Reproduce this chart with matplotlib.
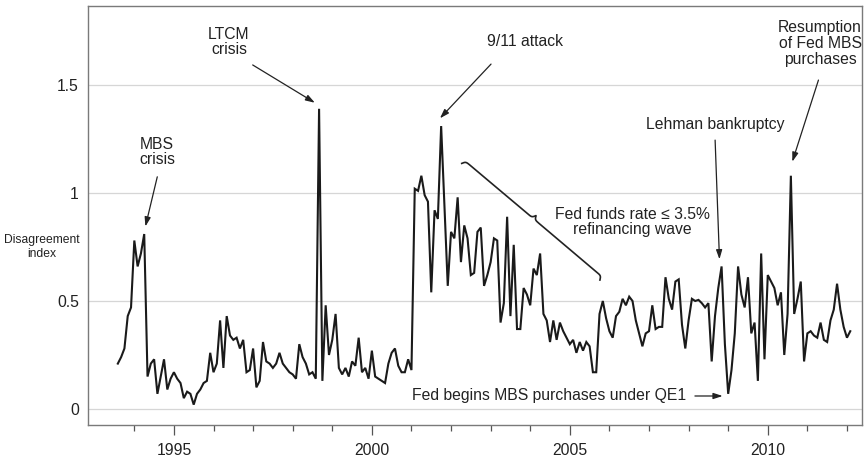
import numpy as np
import matplotlib
matplotlib.use("Agg")
import matplotlib.pyplot as plt

plt.rcParams['font.family'] = ['Liberation Sans', 'DejaVu Sans']

# monthly disagreement index, Aug 1993 - Feb 2012
start_year = 1993 + 7 / 12
disagreement = [
    0.21, 0.24, 0.28, 0.43, 0.47, 0.78, 0.66, 0.72, 0.81, 0.15,
    0.21, 0.23, 0.07, 0.15, 0.23, 0.09, 0.14, 0.17, 0.14, 0.12,
    0.05, 0.08, 0.07, 0.02, 0.07, 0.09, 0.12, 0.13, 0.26, 0.17,
    0.21, 0.41, 0.19, 0.43, 0.34, 0.32, 0.33, 0.28, 0.32, 0.17,
    0.18, 0.28, 0.10, 0.13, 0.31, 0.22, 0.21, 0.19, 0.21, 0.26,
    0.21, 0.19, 0.17, 0.16, 0.14, 0.30, 0.24, 0.21, 0.16, 0.17,
    0.14, 1.39, 0.13, 0.48, 0.25, 0.32, 0.44, 0.19, 0.16, 0.19,
    0.15, 0.22, 0.20, 0.33, 0.17, 0.19, 0.14, 0.27, 0.15, 0.14,
    0.13, 0.12, 0.21, 0.26, 0.28, 0.20, 0.17, 0.17, 0.23, 0.18,
    1.02, 1.01, 1.08, 0.99, 0.96, 0.54, 0.92, 0.88, 1.31, 0.94,
    0.57, 0.82, 0.79, 0.98, 0.68, 0.85, 0.79, 0.62, 0.63, 0.82,
    0.84, 0.57, 0.62, 0.68, 0.79, 0.78, 0.40, 0.49, 0.89, 0.43,
    0.76, 0.37, 0.37, 0.56, 0.53, 0.48, 0.65, 0.62, 0.72, 0.44,
    0.41, 0.31, 0.41, 0.32, 0.40, 0.36, 0.33, 0.30, 0.32, 0.26,
    0.31, 0.27, 0.31, 0.29, 0.17, 0.17, 0.44, 0.50, 0.42, 0.36,
    0.33, 0.43, 0.45, 0.51, 0.48, 0.52, 0.50, 0.41, 0.35, 0.29,
    0.35, 0.36, 0.48, 0.37, 0.38, 0.38, 0.61, 0.51, 0.46, 0.59,
    0.60, 0.39, 0.28, 0.41, 0.51, 0.50, 0.505, 0.49, 0.47, 0.49,
    0.22, 0.43, 0.56, 0.66, 0.30, 0.07, 0.18, 0.35, 0.66, 0.53,
    0.47, 0.61, 0.35, 0.40, 0.13, 0.72, 0.23, 0.62, 0.59, 0.56,
    0.48, 0.54, 0.25, 0.44, 1.08, 0.44, 0.51, 0.59, 0.22, 0.35,
    0.36, 0.34, 0.33, 0.40, 0.32, 0.31, 0.41, 0.46, 0.58, 0.46,
    0.38, 0.33, 0.36,
]
years = start_year + np.arange(len(disagreement)) / 12

major_years = [1995, 2000, 2005, 2010]
minor_years = [y for y in range(1994, 2013) if y not in major_years]
y_ticks = [0, 0.5, 1, 1.5]
y_labels = ['0', '0.5', '1', '1.5']

TXT = '#222222'
FS = 11.3

fig = plt.figure(figsize=(8.67, 4.59), dpi=100)
ax = fig.add_axes([88 / 867, 1 - 424.5 / 459, (862 - 88) / 867, (424.5 - 6) / 459])

ax.plot(years, disagreement, color='#1a1a1a', lw=1.5, solid_joinstyle='miter', zorder=3)

ax.set_xlim(1992.83, 2012.38)
ax.set_ylim(-0.072, 1.866)
ax.set_xticks(major_years)
ax.set_xticklabels([str(y) for y in major_years])
ax.set_xticks(minor_years, minor=True)
ax.set_yticks(y_ticks)
ax.set_yticklabels(y_labels)
ax.tick_params(axis='x', which='major', length=7, width=0.9, color='#555555',
               pad=6.5, labelsize=FS, labelcolor=TXT)
ax.tick_params(axis='x', which='minor', length=4.5, width=0.9, color='#555555')
ax.tick_params(axis='y', length=0, pad=6.5, labelsize=FS, labelcolor=TXT)
ax.grid(axis='y', color='#d6d6d6', lw=0.9, zorder=0)
for s in ax.spines.values():
    s.set_color('#7a7a7a')
    s.set_linewidth(1.0)

fig.text(42 / 867, 1 - 247 / 459, 'Disagreement\nindex', ha='center', va='center',
         fontsize=8.7, color=TXT, linespacing=1.25)

arrow_kw = dict(arrowstyle='-|>,head_length=0.55,head_width=0.18', color='#222222',
                lw=0.9, shrinkA=0, shrinkB=0)


def note(text, pos, tail=None, tip=None, ha='center', ls=1.05):
    ax.text(pos[0], pos[1], text, ha=ha, va='center', fontsize=FS, color=TXT,
            linespacing=ls, zorder=4)
    if tail is not None:
        ax.annotate('', xy=tip, xytext=tail, arrowprops=arrow_kw, zorder=4)


note('MBS\ncrisis', (1994.57, 1.19), (1994.58, 1.075), (1994.28, 0.845))
note('LTCM\ncrisis', (1996.39, 1.70), (1996.99, 1.593), (1998.56, 1.418))
note('9/11 attack', (2003.87, 1.70), (2003.01, 1.597), (2001.72, 1.346))
note('Lehman bankruptcy', (2008.67, 1.319), (2008.67, 1.245), (2008.78, 0.693))
note('Resumption\nof Fed MBS\npurchases', (2011.32, 1.692), (2011.28, 1.523), (2010.62, 1.145))
note('Fed begins MBS purchases under QE1', (2007.95, 0.06), (2008.16, 0.06),
     (2008.86, 0.06), ha='right')
note('Fed funds rate \u2264 3.5%\nrefinancing wave', (2006.58, 0.866))

# curly brace for the refinancing wave, built in display pixels
A = ax.transData.transform((2002.27, 1.137))
B = ax.transData.transform((2005.76, 0.597))
d = B - A
L = np.hypot(*d)
u = d / L
n = np.array([-u[1], u[0]])
h, beta = 8.0, 1.0
s = np.linspace(0, L / 2, 300)
half = 1 / (1 + np.exp(-beta * s)) + 1 / (1 + np.exp(-beta * (s - L / 2)))
half = (half - half[0]) / (half[-1] - half[0]) * h
ss = np.concatenate([s, L - s[::-1]])
off = np.concatenate([half, half[::-1]])
pts = A + np.outer(ss, u) + np.outer(off, n)
pts = ax.transData.inverted().transform(pts)
ax.plot(pts[:, 0], pts[:, 1], color='#222222', lw=1.2, zorder=4)

fig.savefig('out.png', dpi=100, facecolor='white')
